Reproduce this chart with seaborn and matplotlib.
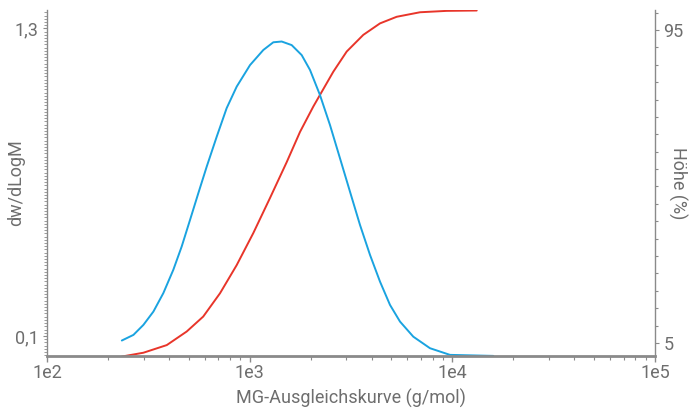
import matplotlib
matplotlib.use("Agg")
import matplotlib.pyplot as plt
import matplotlib.ticker as mticker
import seaborn as sns
import pandas as pd

# Data
blue_mw = [234, 267, 299, 335, 375, 420, 462, 508, 558, 614, 688, 770, 863, 1004, 1168,
           1308, 1439, 1612, 1806, 1985, 2223, 2491, 2791, 3126, 3503, 3925, 4396, 4925,
           5517, 6418, 7757, 9736, 15930]
blue_dw = [0.082, 0.104, 0.143, 0.195, 0.267, 0.358, 0.449, 0.553, 0.657, 0.761, 0.878,
           0.989, 1.073, 1.157, 1.216, 1.246, 1.249, 1.235, 1.196, 1.138, 1.040, 0.923,
           0.793, 0.663, 0.533, 0.416, 0.312, 0.221, 0.156, 0.097, 0.052, 0.026, 0.022]
red_mw = [234, 299, 390, 489, 590, 714, 863, 1042, 1260, 1523, 1772, 2061, 2586, 3011,
          3637, 4396, 5314, 6925, 9380, 13191]
red_pct = [1.1, 2.2, 4.4, 8.3, 12.6, 19.3, 27.4, 36.6, 46.7, 57.0, 65.7, 73.0, 83.0, 88.8,
           93.6, 96.9, 98.8, 100.1, 100.5, 100.6]

x_ticks = [1e2, 1e3, 1e4, 1e5]
x_labels = ["1e2", "1e3", "1e4", "1e5"]
left_ticks = [0.1, 1.3]
left_labels = ["0,1", "1,3"]
right_ticks = [5, 95]
right_labels = ["5", "95"]

sns.set_style("white")
plt.rcParams['font.family'] = ['Roboto', 'DejaVu Sans']

BLUE = "#1aa3e0"
RED = "#e8352a"
GRAY = "#8a8a8a"
TXT = "#6e6e6e"

fig = plt.figure(figsize=(6.96, 4.11), dpi=100)
ax = fig.add_axes([47/696, 55/411, 608/696, 346/411])
ax2 = ax.twinx()

df_b = pd.DataFrame({"mw": blue_mw, "dw": blue_dw})
df_r = pd.DataFrame({"mw": red_mw, "pct": red_pct})
sns.lineplot(data=df_b, x="mw", y="dw", ax=ax, color=BLUE, lw=1.4,
             solid_joinstyle="round")
sns.lineplot(data=df_r, x="mw", y="pct", ax=ax2, color=RED, lw=1.4,
             solid_joinstyle="round")

ax.set_xscale("log")
ax.set_xlim(1e2, 1e5)
ax.set_ylim(0.0216, 1.372)
ax2.set_ylim(1.26, 100.75)

ax.xaxis.set_major_locator(mticker.FixedLocator(x_ticks))
ax.xaxis.set_major_formatter(mticker.FixedFormatter(x_labels))
ax.xaxis.set_minor_locator(mticker.LogLocator(base=10, subs=range(2, 10)))
ax.xaxis.set_minor_formatter(mticker.NullFormatter())

ax.yaxis.set_major_locator(mticker.FixedLocator(left_ticks))
ax.yaxis.set_major_formatter(mticker.FixedFormatter(left_labels))
ax.yaxis.set_minor_locator(mticker.MultipleLocator(0.0125))

ax2.yaxis.set_major_locator(mticker.FixedLocator(right_ticks))
ax2.yaxis.set_major_formatter(mticker.FixedFormatter(right_labels))
ax2.yaxis.set_minor_locator(mticker.MultipleLocator(5))

for a in (ax, ax2):
    for s in a.spines.values():
        s.set_visible(False)
ax.spines["left"].set_visible(True)
ax.spines["left"].set_color(GRAY)
ax.spines["left"].set_linewidth(1.0)
ax.spines["bottom"].set_visible(True)
ax.spines["bottom"].set_color(GRAY)
ax.spines["bottom"].set_linewidth(2.0)
ax2.spines["right"].set_visible(True)
ax2.spines["right"].set_color(GRAY)
ax2.spines["right"].set_linewidth(1.0)

ax.tick_params(axis="x", which="major", direction="out", length=4, width=1, color=GRAY,
               labelsize=13, labelcolor=TXT, pad=2, bottom=True)
ax.tick_params(axis="x", which="minor", direction="out", length=3, width=0.8, color=GRAY,
               bottom=True)
ax.tick_params(axis="y", which="major", direction="out", length=3, width=0.8, color=GRAY,
               labelsize=13, labelcolor=TXT, pad=3, left=True)
ax.tick_params(axis="y", which="minor", direction="out", length=2, width=0.6, color=GRAY,
               left=True)
ax2.tick_params(axis="y", which="major", direction="out", length=3, width=0.8, color=GRAY,
                labelsize=13, labelcolor=TXT, pad=3, right=True)
ax2.tick_params(axis="y", which="minor", direction="out", length=2.5, width=0.8, color=GRAY,
                right=True)

ax.set_xlabel("MG-Ausgleichskurve (g/mol)", fontsize=13, color=TXT, va="center")
ax.xaxis.set_label_coords(0.5, -42/346)
ax.set_ylabel("dw/dLogM", fontsize=13, color=TXT)
ax.yaxis.set_label_coords(-22/608, 0.5)
ax2.set_ylabel("Höhe (%)", fontsize=13, color=TXT, rotation=270, va="center")
ax2.yaxis.set_label_coords(1 + 23/608, 0.5)

ax.set_zorder(ax2.get_zorder() + 1)
ax.patch.set_visible(False)

fig.savefig("out.png", dpi=100)
